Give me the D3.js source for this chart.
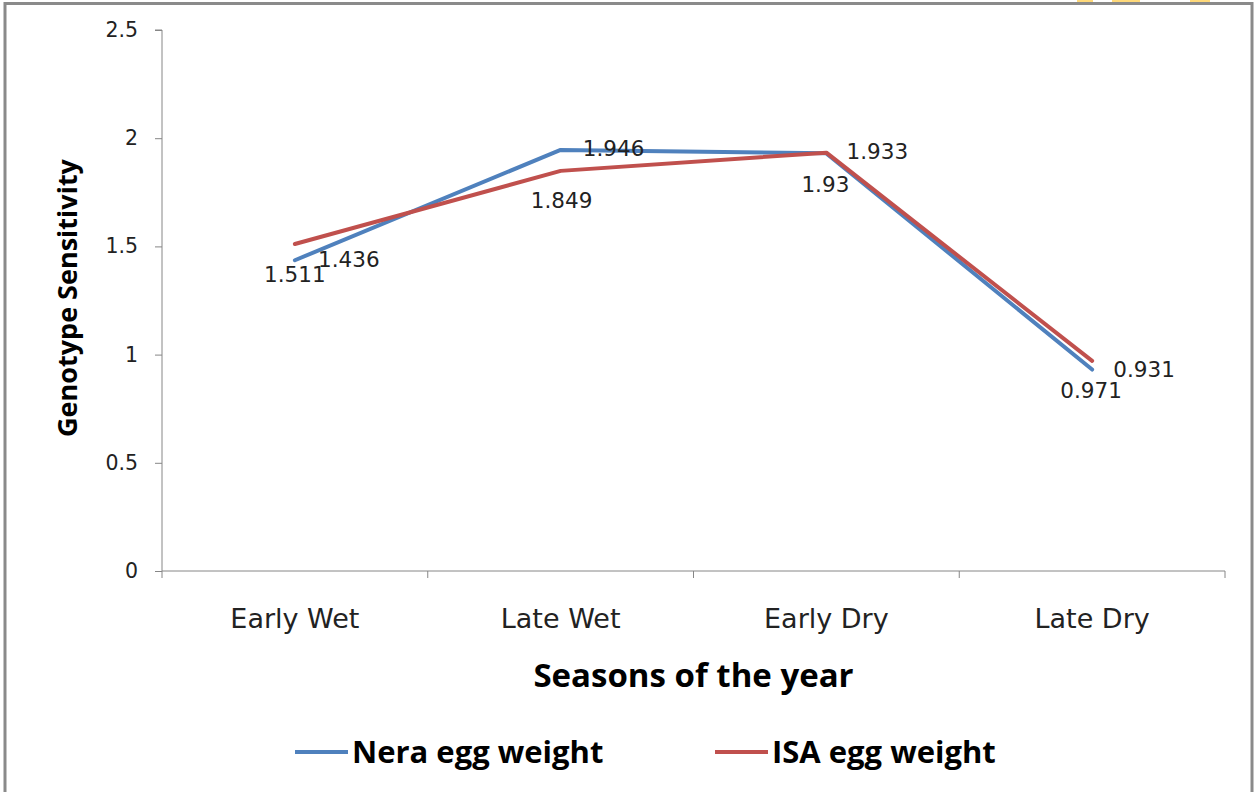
<!DOCTYPE html>
<html><head><meta charset="utf-8">
<script src="https://cdn.jsdelivr.net/npm/d3@7"></script>
<style>html,body{margin:0;padding:0;background:#fff;}svg{display:block;}</style>
</head><body>
<svg id="chart" width="1255" height="792"></svg>
<script>
const categories = ["Early Wet", "Late Wet", "Early Dry", "Late Dry"];
const neraValues = [1.436, 1.946, 1.93, 0.931];
const isaValues = [1.511, 1.849, 1.933, 0.971];
const yTicks = [0, 0.5, 1, 1.5, 2, 2.5];
const seriesNames = ["Nera egg weight", "ISA egg weight"];
const seriesColors = ["#4F81BD", "#C0504D"];
// label offsets (pixels) relative to each point: [dx, dy]
const neraLabelOffsets = [[54, 7], [53, 6], [-1, 39], [52, 7]];
const isaLabelOffsets = [[0, 38], [1, 37], [51, 6], [-1, 37]];

const svg = d3.select("#chart");
const m = {left: 162, right: 1225, top: 30, bottom: 571};

svg.append("rect").attr("x", 5).attr("y", 3.5).attr("width", 1247).attr("height", 800)
  .attr("fill", "#fff").attr("stroke", "#8a8a8a").attr("stroke-width", 3);
// small yellow artifacts at top edge
[[1077, 16], [1112, 28], [1190, 20]].forEach(([x, w]) => {
  svg.append("rect").attr("x", x).attr("y", 0).attr("width", w).attr("height", 2).attr("fill", "#FFD97A");
});

const x = d3.scaleBand().domain(categories).range([m.left, m.right]);
const y = d3.scaleLinear().domain([0, 2.5]).range([m.bottom, m.top]);
const cx = d => x(d) + x.bandwidth() / 2;

// Y axis
const yAxis = d3.axisLeft(y).tickValues(yTicks).tickSize(7).tickPadding(17).tickFormat(d3.format("~g"));
const gy = svg.append("g").attr("transform", `translate(${m.left},0)`).call(yAxis);
gy.select(".domain").attr("stroke", "#868686").attr("d", `M-7,${m.top}H0V${m.bottom}`);
gy.selectAll(".tick line").attr("stroke", "#868686");
gy.selectAll(".tick text").attr("font-family", "DejaVu Sans").attr("font-size", 20.5).attr("fill", "#222");

// X axis
const gx = svg.append("g").attr("transform", `translate(0,${m.bottom})`);
gx.append("line").attr("x1", m.left).attr("x2", m.right).attr("y1", 0).attr("y2", 0).attr("stroke", "#868686");
const bounds = categories.map(c => x(c)).concat([m.right]);
gx.selectAll("line.tk").data(bounds).enter().append("line").attr("class", "tk")
  .attr("x1", d => d).attr("x2", d => d).attr("y1", 0).attr("y2", 7).attr("stroke", "#868686");
gx.selectAll("text.cat").data(categories).enter().append("text").attr("class", "cat")
  .attr("x", d => cx(d)).attr("y", 57).attr("text-anchor", "middle")
  .attr("font-family", "DejaVu Sans").attr("font-size", 27).attr("fill", "#222").text(d => d);

// Titles
svg.append("text").attr("x", (m.left + m.right) / 2).attr("y", 687).attr("text-anchor", "middle")
  .attr("font-family", "Open Sans").attr("font-weight", "bold").attr("font-size", 33).attr("fill", "#000")
  .text("Seasons of the year");
svg.append("text").attr("transform", "translate(77,298) rotate(-90)").attr("text-anchor", "middle")
  .attr("font-family", "Open Sans").attr("font-weight", "bold").attr("font-size", 27).attr("fill", "#000")
  .text("Genotype Sensitivity");

// Lines
const line = d3.line().x((d, i) => cx(categories[i])).y(d => y(d));
const series = [neraValues, isaValues];
series.forEach((vals, s) => {
  svg.append("path").attr("d", line(vals)).attr("fill", "none")
    .attr("stroke", seriesColors[s]).attr("stroke-width", 4).attr("stroke-linejoin", "round").attr("stroke-linecap", "round");
});

// Data labels
const offsets = [neraLabelOffsets, isaLabelOffsets];
series.forEach((vals, s) => {
  svg.selectAll(null).data(vals).enter().append("text")
    .attr("x", (d, i) => cx(categories[i]) + offsets[s][i][0])
    .attr("y", (d, i) => y(d) + offsets[s][i][1])
    .attr("text-anchor", "middle").attr("font-family", "DejaVu Sans").attr("font-size", 21.5).attr("fill", "#222")
    .text(d => String(d));
});

// Legend
const legX = [295, 715];
seriesNames.forEach((n, i) => {
  svg.append("line").attr("x1", legX[i]).attr("x2", legX[i] + 53).attr("y1", 752).attr("y2", 752)
    .attr("stroke", seriesColors[i]).attr("stroke-width", 4);
  svg.append("text").attr("x", legX[i] + 57).attr("y", 763).attr("font-family", "Open Sans").attr("font-weight", "bold")
    .attr("font-size", 31).attr("fill", "#000").text(n);
});
</script>
</body></html>
